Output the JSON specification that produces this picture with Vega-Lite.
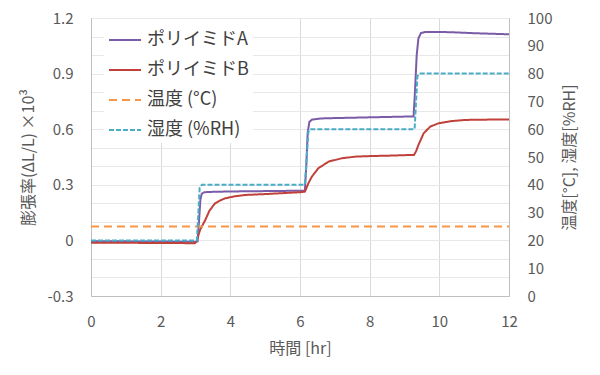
{
  "$schema": "https://vega.github.io/schema/vega-lite/v6.json",
  "width": 418,
  "height": 278,
  "autosize": {"type": "none"},
  "padding": {"left": 91, "top": 18, "right": 91, "bottom": 79},
  "background": "white",
  "config": {
    "font": "Noto Sans CJK JP",
    "view": {"stroke": null},
    "axis": {
      "labelFont": "Noto Sans CJK JP",
      "titleFont": "Noto Sans CJK JP",
      "labelColor": "#595959",
      "titleColor": "#595959",
      "labelFontSize": 15,
      "titleFontSize": 16,
      "titleFontWeight": "normal",
      "domainColor": "#bfbfbf",
      "ticks": false,
      "labelFlush": false
    },
    "legend": {
      "orient": "none",
      "legendX": 13,
      "legendY": 1,
      "title": null,
      "labelFont": "Noto Sans CJK JP",
      "labelFontSize": 18,
      "labelColor": "#404040",
      "symbolType": "stroke",
      "symbolSize": 1024,
      "symbolStrokeWidth": 2,
      "rowPadding": 4,
      "labelOffset": 5,
      "fillColor": "white",
      "padding": 4
    }
  },
  "data": {
    "values": [
      {"series": "ポリイミドA", "t": 0, "v": -0.005},
      {"series": "ポリイミドA", "t": 0.5, "v": -0.004},
      {"series": "ポリイミドA", "t": 1, "v": -0.005},
      {"series": "ポリイミドA", "t": 1.5, "v": -0.006},
      {"series": "ポリイミドA", "t": 2, "v": -0.006},
      {"series": "ポリイミドA", "t": 2.5, "v": -0.007},
      {"series": "ポリイミドA", "t": 3.0, "v": -0.008},
      {"series": "ポリイミドA", "t": 3.06, "v": -0.006},
      {"series": "ポリイミドA", "t": 3.1, "v": 0.1},
      {"series": "ポリイミドA", "t": 3.14, "v": 0.22},
      {"series": "ポリイミドA", "t": 3.18, "v": 0.252},
      {"series": "ポリイミドA", "t": 3.25, "v": 0.26},
      {"series": "ポリイミドA", "t": 3.5, "v": 0.262},
      {"series": "ポリイミドA", "t": 4, "v": 0.264},
      {"series": "ポリイミドA", "t": 4.5, "v": 0.265},
      {"series": "ポリイミドA", "t": 5, "v": 0.266},
      {"series": "ポリイミドA", "t": 5.5, "v": 0.267},
      {"series": "ポリイミドA", "t": 6.0, "v": 0.268},
      {"series": "ポリイミドA", "t": 6.14, "v": 0.268},
      {"series": "ポリイミドA", "t": 6.18, "v": 0.4},
      {"series": "ポリイミドA", "t": 6.22, "v": 0.58},
      {"series": "ポリイミドA", "t": 6.27, "v": 0.64},
      {"series": "ポリイミドA", "t": 6.35, "v": 0.652},
      {"series": "ポリイミドA", "t": 6.6, "v": 0.658},
      {"series": "ポリイミドA", "t": 7, "v": 0.66},
      {"series": "ポリイミドA", "t": 7.5, "v": 0.662},
      {"series": "ポリイミドA", "t": 8, "v": 0.664},
      {"series": "ポリイミドA", "t": 8.5, "v": 0.666},
      {"series": "ポリイミドA", "t": 9, "v": 0.668},
      {"series": "ポリイミドA", "t": 9.26, "v": 0.668},
      {"series": "ポリイミドA", "t": 9.3, "v": 0.8},
      {"series": "ポリイミドA", "t": 9.35, "v": 1.0},
      {"series": "ポリイミドA", "t": 9.4, "v": 1.09},
      {"series": "ポリイミドA", "t": 9.47, "v": 1.118},
      {"series": "ポリイミドA", "t": 9.6, "v": 1.125},
      {"series": "ポリイミドA", "t": 10, "v": 1.125},
      {"series": "ポリイミドA", "t": 10.5, "v": 1.122},
      {"series": "ポリイミドA", "t": 11, "v": 1.118},
      {"series": "ポリイミドA", "t": 11.5, "v": 1.115},
      {"series": "ポリイミドA", "t": 12, "v": 1.112},
      {"series": "ポリイミドB", "t": 0, "v": -0.012},
      {"series": "ポリイミドB", "t": 1, "v": -0.013},
      {"series": "ポリイミドB", "t": 2, "v": -0.014},
      {"series": "ポリイミドB", "t": 2.98, "v": -0.015},
      {"series": "ポリイミドB", "t": 3.03, "v": -0.005},
      {"series": "ポリイミドB", "t": 3.13, "v": 0.056},
      {"series": "ポリイミドB", "t": 3.28, "v": 0.11},
      {"series": "ポリイミドB", "t": 3.4, "v": 0.16},
      {"series": "ポリイミドB", "t": 3.56, "v": 0.2},
      {"series": "ポリイミドB", "t": 3.7, "v": 0.215},
      {"series": "ポリイミドB", "t": 3.85, "v": 0.227},
      {"series": "ポリイミドB", "t": 4.1, "v": 0.237},
      {"series": "ポリイミドB", "t": 4.42, "v": 0.245},
      {"series": "ポリイミドB", "t": 5, "v": 0.25},
      {"series": "ポリイミドB", "t": 5.5, "v": 0.255},
      {"series": "ポリイミドB", "t": 6, "v": 0.26},
      {"series": "ポリイミドB", "t": 6.14, "v": 0.263},
      {"series": "ポリイミドB", "t": 6.19, "v": 0.285},
      {"series": "ポリイミドB", "t": 6.24, "v": 0.308},
      {"series": "ポリイミドB", "t": 6.34, "v": 0.344},
      {"series": "ポリイミドB", "t": 6.53, "v": 0.39},
      {"series": "ポリイミドB", "t": 6.82, "v": 0.425},
      {"series": "ポリイミドB", "t": 7.2, "v": 0.443},
      {"series": "ポリイミドB", "t": 7.59, "v": 0.452},
      {"series": "ポリイミドB", "t": 8, "v": 0.455},
      {"series": "ポリイミドB", "t": 8.5, "v": 0.457},
      {"series": "ポリイミドB", "t": 9, "v": 0.46},
      {"series": "ポリイミドB", "t": 9.27, "v": 0.461},
      {"series": "ポリイミドB", "t": 9.33, "v": 0.48},
      {"series": "ポリイミドB", "t": 9.4, "v": 0.515},
      {"series": "ポリイミドB", "t": 9.55, "v": 0.578},
      {"series": "ポリイミドB", "t": 9.74, "v": 0.614},
      {"series": "ポリイミドB", "t": 9.98, "v": 0.632},
      {"series": "ポリイミドB", "t": 10.36, "v": 0.644},
      {"series": "ポリイミドB", "t": 10.74, "v": 0.65},
      {"series": "ポリイミドB", "t": 11.5, "v": 0.652},
      {"series": "ポリイミドB", "t": 12, "v": 0.653},
      {"series": "温度 (°C)", "t": 0, "v": 25},
      {"series": "温度 (°C)", "t": 12, "v": 25},
      {"series": "湿度 (%RH)", "t": 0, "v": 20},
      {"series": "湿度 (%RH)", "t": 3.04, "v": 20},
      {"series": "湿度 (%RH)", "t": 3.12, "v": 39},
      {"series": "湿度 (%RH)", "t": 3.18, "v": 40},
      {"series": "湿度 (%RH)", "t": 6.14, "v": 40},
      {"series": "湿度 (%RH)", "t": 6.24, "v": 59},
      {"series": "湿度 (%RH)", "t": 6.28, "v": 60},
      {"series": "湿度 (%RH)", "t": 9.29, "v": 60},
      {"series": "湿度 (%RH)", "t": 9.37, "v": 79},
      {"series": "湿度 (%RH)", "t": 9.42, "v": 80},
      {"series": "湿度 (%RH)", "t": 12, "v": 80}
    ]
  },
  "encoding": {
    "x": {
      "field": "t",
      "type": "quantitative",
      "scale": {"domain": [0, 12], "nice": false},
      "axis": {
        "title": "時間 [hr]",
        "values": [0, 2, 4, 6, 8, 10, 12],
        "gridColor": "#d9d9d9",
        "labelPadding": 18,
        "titlePadding": 11
      }
    },
    "color": {
      "field": "series",
      "type": "nominal",
      "scale": {
        "domain": ["ポリイミドA", "ポリイミドB", "温度 (°C)", "湿度 (%RH)"],
        "range": ["#7A5BA8", "#C0403A", "#F79646", "#4BACC6"]
      }
    },
    "strokeDash": {
      "field": "series",
      "type": "nominal",
      "scale": {
        "domain": ["ポリイミドA", "ポリイミドB", "温度 (°C)", "湿度 (%RH)"],
        "range": [[1, 0], [1, 0], [8, 5], [5, 2]]
      }
    }
  },
  "layer": [
    {
      "transform": [{"filter": "datum.series === 'ポリイミドA' || datum.series === 'ポリイミドB'"}],
      "mark": {"type": "line", "strokeWidth": 2},
      "encoding": {
        "y": {
          "field": "v",
          "type": "quantitative",
          "scale": {"domain": [-0.3, 1.2], "nice": false, "zero": false},
          "axis": {
            "title": "膨張率(ΔL/L) ×10³",
            "values": [-0.3, -0.2, -0.1, 0, 0.1, 0.2, 0.3, 0.4, 0.5, 0.6, 0.7, 0.8, 0.9, 1.0, 1.1, 1.2],
            "labelExpr": "round(datum.value*10) % 3 == 0 ? (datum.value < -0.01 ? '-' + format(-datum.value, '.1f') : (abs(datum.value) < 0.01 ? '0' : format(datum.value, '.1f'))) : ''",
            "gridColor": "#e8e8e8",
            "labelPadding": 18,
            "titlePadding": 10
          }
        }
      }
    },
    {
      "transform": [{"filter": "datum.series === '温度 (°C)' || datum.series === '湿度 (%RH)'"}],
      "mark": {"type": "line", "strokeWidth": 2},
      "encoding": {
        "y": {
          "field": "v",
          "type": "quantitative",
          "scale": {"domain": [0, 100], "nice": false},
          "axis": {
            "orient": "right",
            "title": "温度[°C], 湿度[%RH]",
            "titleAngle": 270,
            "values": [0, 10, 20, 30, 40, 50, 60, 70, 80, 90, 100],
            "grid": false,
            "labelPadding": 18,
            "titlePadding": 26
          }
        }
      }
    }
  ],
  "resolve": {"scale": {"y": "independent"}}
}
